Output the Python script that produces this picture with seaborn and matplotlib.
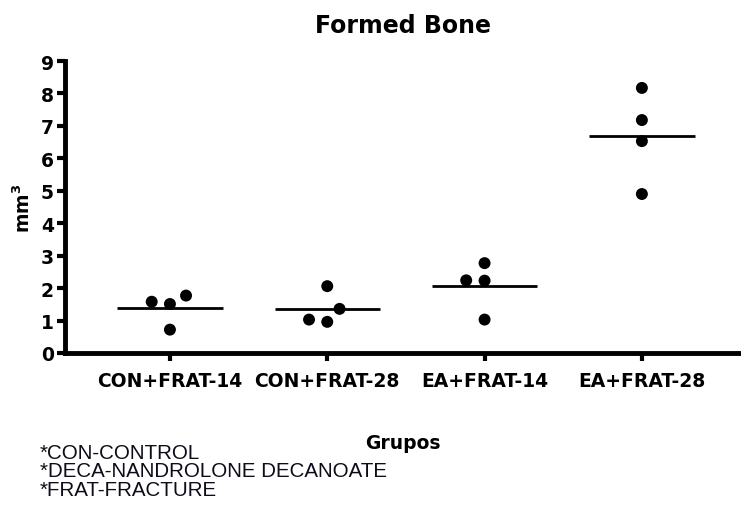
import numpy as np
import pandas as pd
import matplotlib
matplotlib.use("Agg")
import matplotlib.pyplot as plt
import seaborn as sns

# Formed bone volume (mm^3) per animal, by group
groups = ["CON+FRAT-14", "CON+FRAT-28", "EA+FRAT-14", "EA+FRAT-28"]
con_frat_14 = [1.58, 1.51, 1.77, 0.72]
con_frat_28 = [2.06, 1.36, 0.96, 1.03]
ea_frat_14 = [2.77, 2.23, 2.24, 1.03]
ea_frat_28 = [8.17, 7.18, 6.53, 4.90]
y_ticks = list(range(0, 10))
footnotes = ["*CON-CONTROL", "*DECA-NANDROLONE DECANOATE", "*FRAT-FRACTURE"]

df = pd.DataFrame({
    "Grupos": np.repeat(groups, [len(con_frat_14), len(con_frat_28),
                                 len(ea_frat_14), len(ea_frat_28)]),
    "mm3": con_frat_14 + con_frat_28 + ea_frat_14 + ea_frat_28,
})

sns.set_theme(style="ticks")
plt.rcParams["font.family"] = ["DejaVu Sans"]
plt.rcParams["text.color"] = "black"
plt.rcParams["axes.labelcolor"] = "black"

W, H = 741, 506
fig = plt.figure(figsize=(W / 100, H / 100), dpi=100)
ax = fig.add_axes([65 / W, 1 - 354 / H, 1 - 65 / W, (354 - 62) / H])

# Individual values; the invisible edge widens the swarm spacing
sns.swarmplot(data=df, x="Grupos", y="mm3", order=groups, color="black",
              size=8.6, linewidth=4, edgecolor="none", ax=ax, zorder=3)

# Group means as horizontal bars
means = df.groupby("Grupos", sort=False)["mm3"].mean().reindex(groups)
pos = np.arange(len(groups))
ax.hlines(means.values, pos - 0.335, pos + 0.335, color="black", lw=2, zorder=2)

ax.set_xlim(-0.667, 3.63)
ax.set_ylim(0, 9)
ax.set_yticks(y_ticks)
ax.set_yticklabels([str(t) for t in y_ticks])

for side in ("top", "right"):
    ax.spines[side].set_visible(False)
for side in ("left", "bottom"):
    ax.spines[side].set_linewidth(3.5)
    ax.spines[side].set_color("black")
ax.tick_params(axis="both", direction="out", width=3, length=6,
               color="black", labelsize=13.5, labelcolor="black")
ax.tick_params(axis="x", pad=7)
ax.tick_params(axis="y", pad=2)
for lab in ax.get_xticklabels() + ax.get_yticklabels():
    lab.set_fontweight("bold")

ax.set_xlabel("Grupos", fontsize=13.5, fontweight="bold", labelpad=31)
ax.set_ylabel(r"$\mathbf{mm^3}$", fontsize=13.5, labelpad=5)

fig.text(403 / W, 1 - 33 / H, "Formed Bone", ha="center", va="baseline",
         fontsize=17, fontweight="bold")

for i, note in enumerate(footnotes):
    fig.text(40 / W, 1 - (458.7 + 18.7 * i) / H, note, ha="left", va="baseline",
             fontsize=14.8, family=["Liberation Sans", "DejaVu Sans"], color="#0d0d1a")

fig.savefig("out.png", dpi=100)
